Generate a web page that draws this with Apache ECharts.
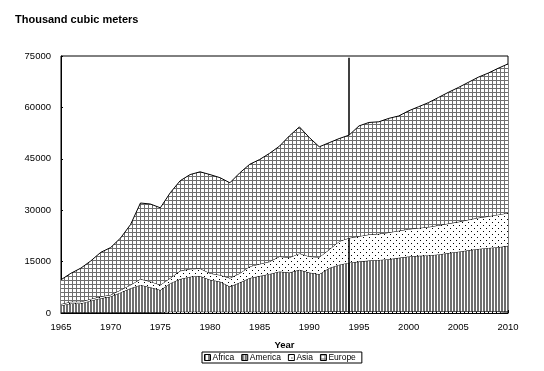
<!DOCTYPE html>
<html>
<head>
<meta charset="utf-8">
<script src="https://cdn.jsdelivr.net/npm/echarts@6/dist/echarts.min.js"></script>
<style>
html,body{margin:0;padding:0;background:#fff;}
#chart{width:544px;height:371px;}
</style>
</head>
<body>
<div id="chart"></div>
<script>
const years = ['1965','1966','1967','1968','1969','1970','1971','1972','1973','1974','1975','1976','1977','1978','1979','1980','1981','1982','1983','1984','1985','1986','1987','1988','1989','1990','1991','1992','1993','1994','1995','1996','1997','1998','1999','2000','2001','2002','2003','2004','2005','2006','2007','2008','2009','2010'];
const africa = [200,200,200,200,200,200,200,200,200,200,200,400,400,400,400,400,400,400,400,400,400,400,400,400,400,400,500,500,500,500,500,500,500,500,500,500,500,500,500,500,500,500,500,500,500,500];
const america = [2000,2600,2600,3400,4100,4600,5800,7000,8000,7300,6500,8300,9500,10200,10400,9300,8800,7300,8500,9800,10400,11000,11700,11400,12200,11400,10800,12600,13600,14200,14500,14800,15000,15200,15600,16000,16200,16300,16600,17000,17400,17800,18200,18500,18700,19100];
const asia = [400,500,500,500,500,500,700,1000,1700,1700,1500,1500,2400,2300,2200,1900,1900,2500,2700,3400,3500,3600,4400,4400,4800,4700,5000,5400,6800,7200,7400,7600,7600,7800,7900,8000,8100,8300,8500,8600,8700,8900,9100,9200,9500,9600];
const europe = [7100,8300,9800,11100,12900,13800,15200,17600,22200,22600,22500,24900,26300,27500,28200,28800,28400,27800,29300,29800,30500,31600,32200,35500,36900,34700,32200,31200,30000,30000,32200,32700,32700,33300,33500,34500,35400,36300,37300,38300,39200,40100,41000,41800,42700,43500];
const seriesNames = ['Africa','America','Asia','Europe'];
const labelYears = ['1965','1970','1975','1980','1985','1990','1995','2000','2005','2010'];
const markerYear = '1994';
const markerTop = 74500;

function makePattern(w, h, draw) {
  const c = document.createElement('canvas');
  c.width = w; c.height = h;
  const ctx = c.getContext('2d');
  ctx.fillStyle = '#ffffff';
  ctx.fillRect(0, 0, w, h);
  draw(ctx);
  return { image: c, repeat: 'repeat' };
}
const patAfrica = makePattern(4, 4, ctx => { ctx.fillStyle = '#000'; ctx.fillRect(0, 0, 1, 4); });
const patAmerica = makePattern(3, 1, ctx => { ctx.fillStyle = '#6e6e6e'; ctx.fillRect(0, 0, 2, 1); });
const patAsia = makePattern(6, 6, ctx => { ctx.fillStyle = '#000'; ctx.fillRect(0, 0, 1, 1); ctx.fillRect(3, 3, 1, 1); });
const patEurope = makePattern(4, 4, ctx => { ctx.fillStyle = '#6e6e6e'; ctx.fillRect(0, 0, 4, 1); ctx.fillRect(0, 0, 1, 4); });
const patterns = [patAfrica, patAmerica, patAsia, patEurope];
const values = [africa, america, asia, europe];

const FONT = '"Liberation Sans", Arial, sans-serif';
const chart = echarts.init(document.getElementById('chart'), null, { renderer: 'canvas' });

const series = seriesNames.map((name, i) => ({
  name: name,
  type: 'line',
  stack: 'total',
  symbol: 'none',
  animation: false,
  data: values[i],
  lineStyle: { color: '#000', width: 1 },
  itemStyle: { color: patterns[i], borderColor: '#000', borderWidth: 1 },
  areaStyle: { color: patterns[i], opacity: 1 },
  z: 2 + i
}));
series.push({
  name: 'marker',
  type: 'line',
  data: [],
  animation: false,
  markLine: {
    silent: true,
    symbol: 'none',
    label: { show: false },
    lineStyle: { color: '#000', width: 1.5, type: 'solid' },
    data: [[{ coord: [markerYear, 0] }, { coord: [markerYear, markerTop] }]]
  },
  z: 10
});

chart.setOption({
  animation: false,
  backgroundColor: '#fff',
  title: {
    text: 'Thousand cubic meters',
    left: 10, top: 9,
    textStyle: { fontFamily: FONT, fontWeight: 'bold', fontSize: 11, color: '#000' }
  },
  legend: {
    data: seriesNames.map(n => ({ name: n, icon: 'rect' })),
    left: 202, top: 352,
    padding: [1, 6, 1, 2],
    itemGap: 7,
    itemWidth: 6, itemHeight: 6,
    borderColor: '#000', borderWidth: 1,
    borderRadius: 0,
    itemStyle: { borderColor: '#000', borderWidth: 1 },
    textStyle: { fontFamily: FONT, fontSize: 8.5, color: '#000', padding: [0, 0, 0, -3] }
  },
  grid: {
    left: 61, right: 36, top: 56, bottom: 58,
    show: true, borderColor: '#000', borderWidth: 1, backgroundColor: 'transparent'
  },
  xAxis: {
    type: 'category',
    data: years,
    boundaryGap: false,
    name: 'Year',
    nameLocation: 'middle',
    nameGap: 27,
    nameTextStyle: { fontFamily: FONT, fontWeight: 'bold', fontSize: 9.5, color: '#000' },
    axisLine: { show: true, lineStyle: { color: '#000', width: 1 } },
    axisTick: { show: true, inside: true, length: 3, interval: 0, lineStyle: { color: '#000' } },
    splitLine: { show: false },
    axisLabel: {
      fontFamily: FONT, fontSize: 9.5, color: '#000', margin: 9,
      interval: (idx, val) => labelYears.indexOf(val) >= 0
    }
  },
  yAxis: {
    type: 'value',
    min: 0, max: 75000, interval: 15000,
    axisLine: { show: true, lineStyle: { color: '#000', width: 1 } },
    axisTick: { show: true, inside: true, length: 2, lineStyle: { color: '#000' } },
    splitLine: { show: false },
    axisLabel: { fontFamily: FONT, fontSize: 9.5, color: '#000', margin: 10, formatter: v => String(v) }
  },
  series: series
});
</script>
</body>
</html>
